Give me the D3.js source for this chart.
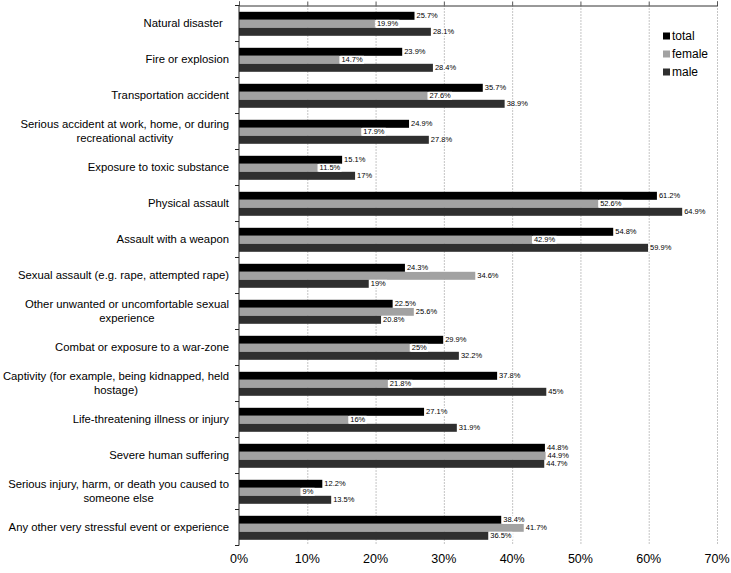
<!DOCTYPE html>
<html><head><meta charset="utf-8">
<script src="https://cdn.jsdelivr.net/npm/d3@7"></script>
<style>body{margin:0;background:#fff}svg{display:block;font-family:"Liberation Sans",Arial,sans-serif}</style>
</head><body><svg id="c" width="731" height="573"></svg>
<script>
const categories = [
  ["Natural disaster\u00a0\u00a0"],
  ["Fire or explosion"],
  ["Transportation accident"],
  ["Serious accident at work, home, or during", "recreational activity"],
  ["Exposure to toxic substance"],
  ["Physical assault"],
  ["Assault with a weapon"],
  ["Sexual assault (e.g. rape, attempted rape)"],
  ["Other unwanted or uncomfortable sexual", "experience"],
  ["Combat or exposure to a war-zone"],
  ["Captivity (for example, being kidnapped, held", "hostage)"],
  ["Life-threatening illness or injury"],
  ["Severe human suffering"],
  ["Serious injury, harm, or death you caused to", "someone else"],
  ["Any other very stressful event or experience"]
];
const seriesNames = ["total", "female", "male"];
const total  = [25.7, 23.9, 35.7, 24.9, 15.1, 61.2, 54.8, 24.3, 22.5, 29.9, 37.8, 27.1, 44.8, 12.2, 38.4];
const female = [19.9, 14.7, 27.6, 17.9, 11.5, 52.6, 42.9, 34.6, 25.6, 25, 21.8, 16, 44.9, 9, 41.7];
const male   = [28.1, 28.4, 38.9, 27.8, 17, 64.9, 59.9, 19, 20.8, 32.2, 45, 31.9, 44.7, 13.5, 36.5];
const xTicks = [0, 10, 20, 30, 40, 50, 60, 70];
const colors = {total: "#000000", female: "#a2a2a2", male: "#2f2f2f"};

(function () {
const values = {total, female, male};
const svg = d3.select("#c");
const x = d3.scaleLinear().domain([0, 70]).range([239, 717]);
const y = d3.scaleBand().domain(d3.range(categories.length)).range([5.5, 545.5]);
const ys = d3.scaleBand().domain(seriesNames).range([6.3, 30.3]);

// gridlines
svg.append("g").selectAll("line").data(xTicks.slice(1)).join("line")
  .attr("x1", d => x(d) + 0.5).attr("x2", d => x(d) + 0.5)
  .attr("y1", 5.5).attr("y2", 545.5)
  .attr("stroke", "#8a8a8a").attr("stroke-width", 1).attr("stroke-dasharray", "1,2");

// top axis
const topAxis = svg.append("g").attr("transform", "translate(0,5.5)")
  .call(d3.axisTop(x).tickValues(xTicks).tickSize(4).tickFormat(""));
topAxis.select(".domain").attr("stroke", "#333");
topAxis.selectAll(".tick line").attr("stroke", "#555");

// bottom tick labels
svg.append("g").selectAll("text").data(xTicks).join("text")
  .attr("x", d => x(d)).attr("y", 563).attr("text-anchor", "middle")
  .attr("font-size", 12.5).attr("fill", "#000").text(d => d + "%");

// bars
const groups = svg.append("g").selectAll("g").data(categories).join("g")
  .attr("transform", (d, i) => `translate(0,${y(i)})`);
seriesNames.forEach(s => {
  groups.append("rect")
    .attr("x", x(0)).attr("y", ys(s))
    .attr("width", (d, i) => x(values[s][i]) - x(0))
    .attr("height", ys.bandwidth())
    .attr("fill", colors[s]);
});
// value labels with white background
seriesNames.forEach(s => {
  const lab = groups.append("g")
    .attr("transform", (d, i) => `translate(${x(values[s][i]) + 2},${ys(s) + ys.bandwidth() / 2})`);
  lab.append("rect").attr("class", "bg").attr("fill", "#fff");
  lab.append("text").attr("font-size", 7.5).attr("fill", "#000")
    .attr("dy", "0.35em").text((d, i) => values[s][i] + "%");
  lab.each(function () {
    const g = d3.select(this);
    const bb = g.select("text").node().getBBox();
    g.select("rect").attr("x", bb.x - 1).attr("y", -4).attr("width", bb.width + 2).attr("height", 8);
  });
});

// left axis
const left = svg.append("g").attr("transform", "translate(239,0)");
left.append("line").attr("x1", 0).attr("x2", 0).attr("y1", 5.5).attr("y2", 545.5).attr("stroke", "#222");
const edge = i => (i < categories.length ? y(i) : y(categories.length - 1) + y.bandwidth());
left.selectAll("line.t").data(d3.range(categories.length + 1)).join("line").attr("class", "t")
  .attr("x1", -4).attr("x2", 0)
  .attr("y1", edge).attr("y2", edge)
  .attr("stroke", "#222");

// category labels
const fs = 11.3;
const measure = svg.append("text").attr("font-size", fs);
categories.forEach((lines, i) => {
  const widths = lines.map(l => { measure.text(l); return measure.node().getComputedTextLength(); });
  const maxW = d3.max(widths);
  const cx = 229 - maxW / 2;
  const cy = y(i) + y.bandwidth() / 2;
  const lh = 14;
  const t = svg.append("text").attr("font-size", fs).attr("fill", "#000").attr("text-anchor", "middle");
  lines.forEach((l, k) => {
    t.append("tspan").attr("x", cx)
      .attr("y", cy + (k - (lines.length - 1) / 2) * lh)
      .attr("dy", "0.35em").text(l);
  });
});
measure.remove();

// legend
const leg = svg.append("g").attr("transform", "translate(663,36)");
seriesNames.forEach((s, k) => {
  const g = leg.append("g").attr("transform", `translate(0,${k * 18})`);
  g.append("rect").attr("x", 0).attr("y", -3.5).attr("width", 7).attr("height", 7).attr("fill", colors[s]);
  g.append("text").attr("x", 9).attr("dy", "0.35em").attr("font-size", 12).attr("fill", "#000").text(s);
});
})();
</script></body></html>
